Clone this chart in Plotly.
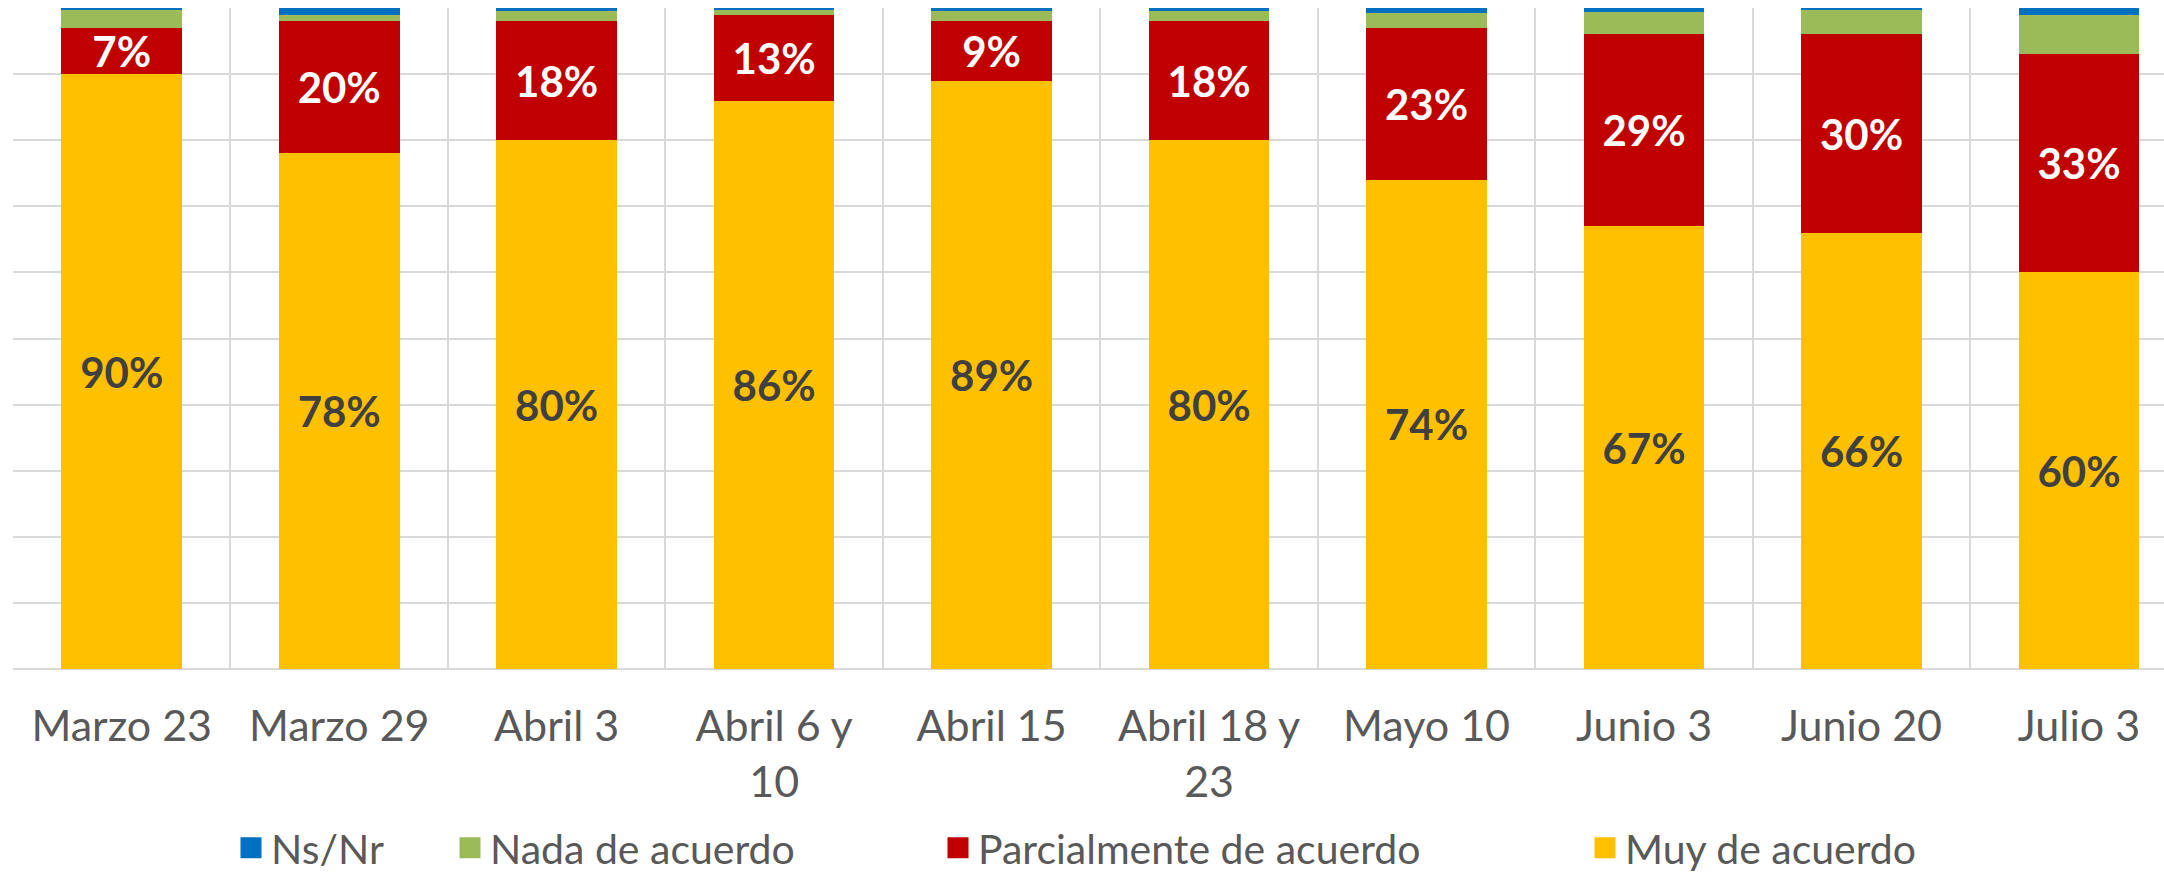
import plotly.graph_objects as go

# Survey waves (x categories)
fechas = ["Marzo 23", "Marzo 29", "Abril 3", "Abril 6 y<br>10", "Abril 15",
          "Abril 18 y<br>23", "Mayo 10", "Junio 3", "Junio 20", "Julio 3"]

# Share of answers per wave, in percent
muy_de_acuerdo = [90, 78, 80, 86, 89, 80, 74, 67, 66, 60]
parcialmente = [7, 20, 18, 13, 9, 18, 23, 29, 30, 33]
nada_de_acuerdo = [2.7, 1.0, 1.6, 0.7, 1.6, 1.5, 2.2, 3.4, 3.7, 6.0]
ns_nr = [0.3, 1.0, 0.4, 0.3, 0.4, 0.5, 0.8, 0.6, 0.3, 1.0]

series = [
    ("Muy de acuerdo", muy_de_acuerdo, "#FFC000", "#404040", True),
    ("Parcialmente de acuerdo", parcialmente, "#C00000", "#FFFFFF", True),
    ("Nada de acuerdo", nada_de_acuerdo, "#9BBB59", None, False),
    ("Ns/Nr", ns_nr, "#0070C0", None, False),
]

FONT = "Lato"
W, H = 2164, 873
M_L, M_R, M_T, M_B = 13, 0, 8, 204

fig = go.Figure()
for name, vals, color, txtcolor, labelled in series:
    fig.add_trace(go.Bar(
        x=fechas, y=vals, name=name,
        marker=dict(color=color, line=dict(width=0)),
        text=[f"{v:.0f}%" for v in vals] if labelled else None,
        textposition="inside" if labelled else "none",
        insidetextanchor="middle",
        textangle=0,
        constraintext="none",
        textfont=dict(family=FONT, size=42, color=txtcolor, weight="bold"),
        showlegend=False,
        hoverinfo="skip",
    ))

# Legend entries, one legend box per item so each can sit at its own spot
legend_left_px = {"Ns/Nr": 231, "Nada de acuerdo": 450,
                  "Parcialmente de acuerdo": 938, "Muy de acuerdo": 1585}
legend_ids = {"Ns/Nr": "legend", "Nada de acuerdo": "legend2",
              "Parcialmente de acuerdo": "legend3", "Muy de acuerdo": "legend4"}
for name, vals, color, _, _ in series:
    fig.add_trace(go.Scatter(
        x=[None], y=[None], mode="markers", name=name,
        marker=dict(symbol="square", size=16, color=color,
                    line=dict(color=color, width=5)),
        legend=legend_ids[name], showlegend=True, hoverinfo="skip",
    ))

for name, lid in legend_ids.items():
    fig.layout[lid] = dict(
        x=legend_left_px[name] / W, xref="container", xanchor="left",
        y=(H - 848) / H, yref="container", yanchor="middle",
        orientation="h", bgcolor="rgba(0,0,0,0)", borderwidth=0,
        font=dict(family=FONT, size=41, color="#595959"),
    )

fig.update_layout(
    width=W, height=H,
    margin=dict(l=M_L, r=M_R, t=M_T, b=M_B, pad=0, autoexpand=False),
    barmode="stack", bargap=0.445,
    plot_bgcolor="white", paper_bgcolor="white",
    font=dict(family=FONT, color="#595959"),
    xaxis=dict(
        type="category", range=[-0.5, 9.391],
        tickson="boundaries", ticks="", showgrid=True,
        gridcolor="#D9D9D9", gridwidth=1.5,
        showline=False, zeroline=False, automargin=False,
        tickfont=dict(family=FONT, size=43, color="#595959"),
        ticklabelstandoff=28,
    ),
    yaxis=dict(
        range=[0, 100], dtick=10, showticklabels=False, ticks="",
        showgrid=True, gridcolor="#D9D9D9", gridwidth=1.5,
        zeroline=True, zerolinecolor="#D9D9D9", zerolinewidth=2,
        showline=False, automargin=False,
    ),
)

fig.write_html("out.html")
